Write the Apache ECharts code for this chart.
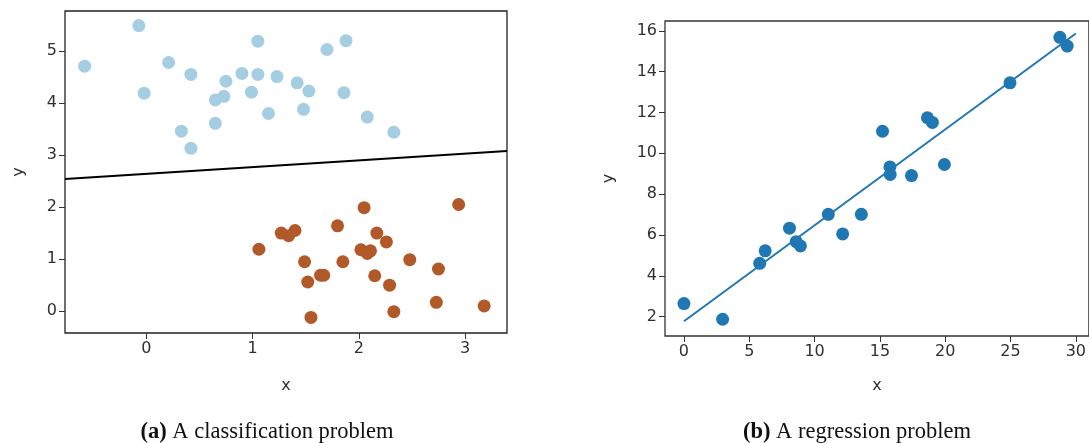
<!DOCTYPE html>
<html><head><meta charset="utf-8">
<script src="https://cdn.jsdelivr.net/npm/echarts@6/dist/echarts.min.js"></script>
<style>html,body{margin:0;padding:0;background:#fff}#c{width:1089px;height:443px}</style>
</head><body><div id="c"></div>
<script>
// (a) classification data
const class0X = [-0.58,-0.07,-0.02,0.21,0.42,0.33,0.42,0.65,0.73,0.75,0.65,0.90,0.99,1.05,1.05,1.15,1.23,1.42,1.53,1.48,1.70,1.88,1.86,2.08,2.33];
const class0Y = [4.71,5.49,4.19,4.78,4.55,3.46,3.13,4.06,4.13,4.42,3.61,4.57,4.21,5.19,4.55,3.80,4.51,4.39,4.23,3.88,5.03,5.20,4.20,3.73,3.44];
const class1X = [1.06,1.27,1.34,1.40,1.49,1.52,1.55,1.64,1.67,1.80,1.85,2.05,2.02,2.08,2.11,2.17,2.26,2.15,2.29,2.33,2.48,2.75,2.73,2.94,3.18];
const class1Y = [1.19,1.50,1.45,1.55,0.95,0.56,-0.12,0.69,0.69,1.64,0.95,1.99,1.18,1.11,1.16,1.50,1.33,0.68,0.50,-0.01,0.99,0.81,0.17,2.05,0.10];
const boundaryX = [-0.765,3.395];
const boundaryY = [2.54,3.08];
const leftXTicks = [0,1,2,3];
const leftYTicks = [0,1,2,3,4,5];
// (b) regression data
const regX = [0,2.96,5.80,6.22,8.08,8.59,8.92,11.05,12.15,13.58,15.20,15.77,15.79,17.42,18.64,19.02,19.94,24.96,28.78,29.34];
const regY = [2.64,1.87,4.61,5.22,6.33,5.67,5.46,7.01,6.05,7.01,11.08,9.33,8.96,8.91,11.74,11.51,9.45,13.45,15.68,15.25];
const fitX = [0,30];
const fitY = [1.77,15.87];
const rightXTicks = [0,5,10,15,20,25,30];
const rightYTicks = [2,4,6,8,10,12,14,16];
const captions = ['(a)','A classification problem','(b)','A regression problem'];

const txt = '#303030';
const font = 'DejaVu Sans';
function axis(type, gi, min, max, ticks, name, gap){
  return {
    type:'value', gridIndex:gi, min:min, max:max, name:name, nameLocation:'middle', nameGap:gap,
    nameTextStyle:{color:txt, fontFamily:font, fontSize:16},
    splitLine:{show:false},
    axisLine:{show:false, onZero:false},
    axisTick:{show:true, inside:false, length:6, customValues:ticks, lineStyle:{color:'#333', width:1}},
    axisLabel:{customValues:ticks, color:txt, fontFamily:font, fontSize:16, margin:8}
  };
}
const chart = echarts.init(document.getElementById('c'), null, {renderer:'canvas'});
const capStyle = {fontFamily:'Liberation Serif', fontSize:22.5, fontWeight:'normal', color:'#111',
  rich:{b:{fontFamily:'Liberation Serif', fontSize:22.5, fontWeight:'bold', color:'#111'}}};
chart.setOption({
  animation:false,
  backgroundColor:'#fff',
  grid:[
    {left:65, top:11, width:442, height:322, show:true, borderColor:'#222', borderWidth:1.3, backgroundColor:'transparent'},
    {left:665, top:21, width:426, height:315, show:true, borderColor:'#333', borderWidth:1.3, backgroundColor:'transparent'}
  ],
  xAxis:[
    axis('x',0,-0.765,3.395,leftXTicks,'x',45),
    axis('x',1,-1.45,31.0,rightXTicks,'x',42)
  ],
  yAxis:[
    axis('y',0,-0.42,5.77,leftYTicks,'y',38),
    axis('y',1,1.05,16.48,rightYTicks,'y',48)
  ],
  title:[
    {text:'{b|'+captions[0]+'} '+captions[1], left:262, top:416, textAlign:'center', textStyle:capStyle},
    {text:'{b|'+captions[2]+'} '+captions[3], left:852, top:416, textAlign:'center', textStyle:capStyle}
  ],
  series:[
    {type:'line', xAxisIndex:0, yAxisIndex:0, data:boundaryX.map((x,i)=>[x,boundaryY[i]]), symbol:'none', lineStyle:{color:'#000', width:2}, clip:true},
    {type:'scatter', xAxisIndex:0, yAxisIndex:0, data:class0X.map((x,i)=>[x,class0Y[i]]), symbolSize:13, itemStyle:{color:'#a6cee3', opacity:1}},
    {type:'scatter', xAxisIndex:0, yAxisIndex:0, data:class1X.map((x,i)=>[x,class1Y[i]]), symbolSize:13, itemStyle:{color:'#b15928', opacity:1}},
    {type:'scatter', xAxisIndex:1, yAxisIndex:1, data:regX.map((x,i)=>[x,regY[i]]), symbolSize:13, itemStyle:{color:'#1f77b4', opacity:1}},
    {type:'line', xAxisIndex:1, yAxisIndex:1, data:fitX.map((x,i)=>[x,fitY[i]]), symbol:'none', lineStyle:{color:'#1f77b4', width:2}, z:3}
  ]
});
</script>
</body></html>
